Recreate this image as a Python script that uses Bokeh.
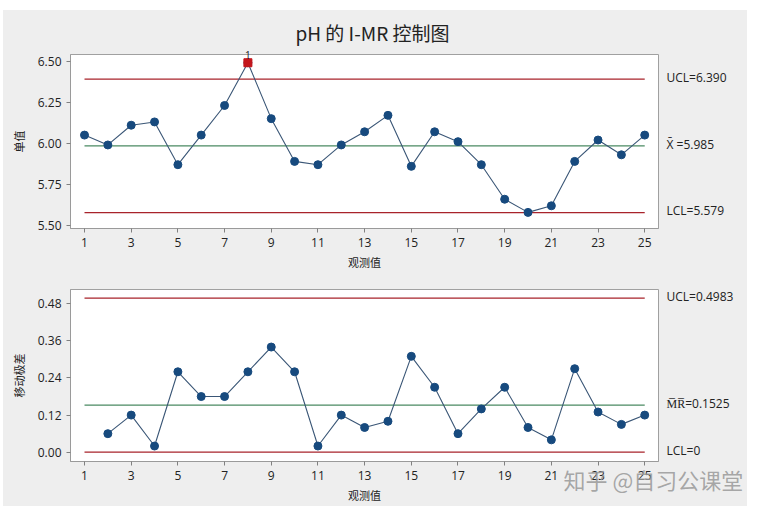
from bokeh.plotting import figure
from bokeh.layouts import column
from bokeh.models import FixedTicker, NumeralTickFormatter, Range1d, LinearAxis
from bokeh.embed import file_html
from bokeh.resources import INLINE

# ---------------- data ----------------
obs = list(range(1, 26))
individual = [6.05, 5.99, 6.11, 6.13, 5.87, 6.05, 6.23, 6.49, 6.15, 5.89,
              5.87, 5.99, 6.07, 6.17, 5.86, 6.07, 6.01, 5.87, 5.66, 5.58,
              5.62, 5.89, 6.02, 5.93, 6.05]
mr_obs = list(range(2, 26))
moving_range = [0.06, 0.12, 0.02, 0.26, 0.18, 0.18, 0.26, 0.34, 0.26, 0.02,
                0.12, 0.08, 0.10, 0.31, 0.21, 0.06, 0.14, 0.21, 0.08, 0.04,
                0.27, 0.13, 0.09, 0.12]
out_obs = [8]
out_vals = [6.49]
out_tags = ["1"]

i_ucl, i_cl, i_lcl = 6.390, 5.985, 5.579
mr_ucl, mr_cl, mr_lcl = 0.4983, 0.1525, 0.0

x_ticks = [1, 3, 5, 7, 9, 11, 13, 15, 17, 19, 21, 23, 25]
i_ticks = [5.50, 5.75, 6.00, 6.25, 6.50]
mr_ticks = [0.00, 0.12, 0.24, 0.36, 0.48]

i_labels = ["UCL=6.390", "X\u0304 =5.985", "LCL=5.579"]
mr_labels = ["UCL=0.4983", "M\u0305R\u0305=0.1525", "LCL=0"]

watermark_x = [25.37]
watermark_text = ["知乎 @自习公课堂"]

# ---------------- styles ----------------
BG = "#eeeeee"
RED = "#a8232b"
GREEN = "#4a8a62"
LINE = "#3a5676"
DOT = "#174a7e"
TXT = "#222222"
LAT = "Open Sans"
CJK = "Noto Sans CJK SC"


def style(p, ticks, fmt, ylabel):
    p.xgrid.visible = False
    p.ygrid.visible = False
    p.xaxis.ticker = FixedTicker(ticks=x_ticks)
    p.yaxis.ticker = FixedTicker(ticks=ticks)
    p.yaxis.formatter = NumeralTickFormatter(format=fmt)
    for ax in (p.xaxis[0], p.yaxis[0]):
        ax.axis_line_color = "#9a9a9a"
        ax.major_tick_line_color = "#808080"
        ax.major_tick_out = 4
        ax.major_tick_in = 0
        ax.minor_tick_line_color = None
        ax.major_label_text_font = LAT
        ax.major_label_text_font_size = "12px"
        ax.major_label_text_color = TXT
        ax.axis_label_text_font = CJK
        ax.axis_label_text_font_size = "11px"
        ax.axis_label_text_font_style = "normal"
        ax.axis_label_text_color = TXT
    p.xaxis.axis_label = "观测值"
    p.xaxis.axis_label_standoff = 4
    p.yaxis.axis_label = ylabel
    p.yaxis.axis_label_standoff = 8


def text_axis(ticks, texts, size, standoff, color=TXT, font=LAT, alpha=1.0):
    return LinearAxis(ticker=FixedTicker(ticks=ticks),
                      major_label_overrides={k: t for k, t in zip(ticks, texts)},
                      axis_line_color=None, major_tick_line_color=None,
                      minor_tick_line_color=None, major_tick_out=0,
                      major_tick_in=0, major_label_standoff=standoff,
                      major_label_text_font=font,
                      major_label_text_font_size=size,
                      major_label_text_color=color,
                      major_label_text_alpha=alpha)


def limits(p, vals, labels, dy):
    cols = [RED, GREEN, RED]
    for v, c in zip(vals, cols):
        p.line([obs[0], obs[-1]], [v, v], line_color=c, line_width=1.2)
    pos = [v + dy for v in vals]
    p.add_layout(text_axis(pos, labels, "12px", 8), "right")


# ---------------- I chart ----------------
p1 = figure(width=744, height=262, x_range=Range1d(0.4, 25.59),
            y_range=Range1d(5.482, 6.54), output_backend="svg",
            toolbar_location=None, min_border_left=67, min_border_right=89,
            min_border_top=44, min_border_bottom=43,
            background_fill_color="white", border_fill_color=BG,
            outline_line_color="#a0a0a0")
p1.title.text = "pH 的 I-MR 控制图"
p1.title.align = "left"
p1.title.offset = 225
p1.title.standoff = 4
p1.title.text_font = CJK
p1.title.text_font_size = "19px"
p1.title.text_font_style = "normal"
p1.title.text_color = TXT
style(p1, i_ticks, "0.00", "单值")
limits(p1, [i_ucl, i_cl, i_lcl], i_labels, 0.01)
p1.line(obs, individual, line_color=LINE, line_width=1.1)
p1.scatter(obs, individual, size=8, color=DOT)
p1.scatter(out_obs, out_vals, marker="square", size=8, color="#c4161c")
p1.add_layout(text_axis(out_obs, out_tags, "10px", -4), "above")

# ---------------- MR chart ----------------
p2 = figure(width=744, height=234, x_range=Range1d(0.4, 25.59),
            y_range=Range1d(-0.030, 0.526), output_backend="svg",
            toolbar_location=None, min_border_left=67, min_border_right=89,
            min_border_top=17, min_border_bottom=45,
            background_fill_color="white", border_fill_color=BG,
            outline_line_color="#a0a0a0")
style(p2, mr_ticks, "0.00", "移动极差")
limits(p2, [mr_ucl, mr_cl, mr_lcl], mr_labels, 0.005)
p2.line(mr_obs, moving_range, line_color=LINE, line_width=1.1)
p2.scatter(mr_obs, moving_range, size=8, color=DOT)
p2.add_layout(text_axis(watermark_x, watermark_text, "22px", -43,
                        color="#999999", font=CJK, alpha=0.85), "below")

layout = column(p1, p2, spacing=0, margin=(10, 0, 0, 3),
                styles={"background-color": BG})
open("out.html", "w").write(file_html(layout, INLINE))
